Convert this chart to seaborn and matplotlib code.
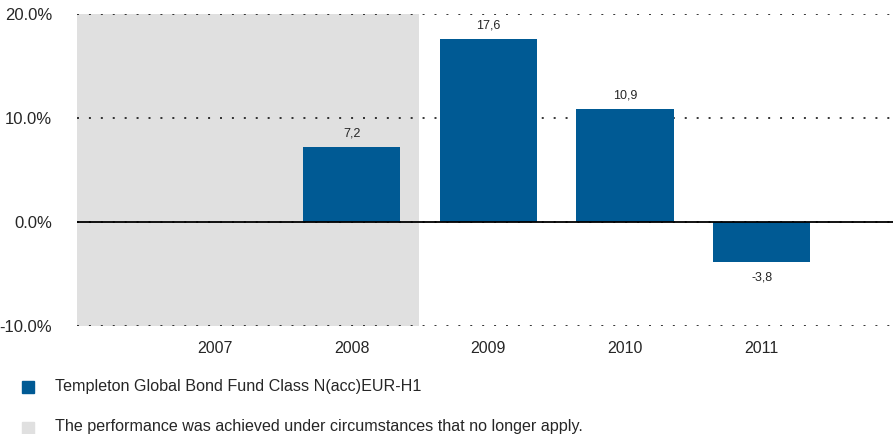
import matplotlib
matplotlib.use('Agg')
import matplotlib.pyplot as plt
import seaborn as sns
import pandas as pd
from matplotlib.ticker import FuncFormatter

years = ['2007', '2008', '2009', '2010', '2011']
returns = [None, 7.2, 17.6, 10.9, -3.8]
value_labels = ['', '7,2', '17,6', '10,9', '-3,8']
yticks = [-10, 0, 10, 20]
fund_name = 'Templeton Global Bond Fund Class N(acc)EUR-H1'
shade_note = 'The performance was achieved under circumstances that no longer apply.'

bar_color = '#005A94'
shade_color = '#E0E0E0'

sns.set_style('white')
plt.rcParams['font.family'] = ['Liberation Sans', 'DejaVu Sans']

df = pd.DataFrame({'year': years, 'ret': returns})

fig = plt.figure(figsize=(8.93, 4.34), dpi=100)
ax = fig.add_axes([0.0862, 0.2488, 0.9138, 0.7189])

# shaded period (2007-2008)
ax.axvspan(-1.01, 1.49, color=shade_color, zorder=0, lw=0)

sns.barplot(data=df, x='year', y='ret', color=bar_color, width=0.71,
            saturation=1, linewidth=0, ax=ax, zorder=3)

for i, (v, lab) in enumerate(zip(returns, value_labels)):
    if v is None:
        continue
    if v >= 0:
        ax.text(i, v + 0.7, lab, ha='center', va='bottom', fontsize=9)
    else:
        ax.text(i, v - 1.0, lab, ha='center', va='top', fontsize=9)

ax.set_xlim(-1.008, 4.96)
ax.set_ylim(-10, 20)
ax.set_yticks(yticks)
ax.yaxis.set_major_formatter(FuncFormatter(lambda v, p: f'{v:.1f}%'))
for t in [-10, 0, 10, 20]:
    ax.axhline(t, color='black', lw=1.1, ls=(0, (1.3, 6.5)), zorder=2)
ax.axhline(0, color='black', lw=1.3, zorder=4)

ax.set_xlabel('')
ax.set_ylabel('')
ax.tick_params(axis='both', length=0)
ax.tick_params(axis='y', labelsize=12, pad=18)
ax.tick_params(axis='x', labelsize=11.5, pad=11)
for s in ax.spines.values():
    s.set_visible(False)

# legend
fig.patches.append(plt.Rectangle((22 / 893, 1 - 393 / 434), 12 / 893, 12 / 434,
                                 transform=fig.transFigure, color=bar_color))
fig.text(55 / 893, 1 - 387 / 434, fund_name, fontsize=11.6, va='center')
fig.patches.append(plt.Rectangle((22 / 893, 1 - 434 / 434), 12 / 893, 12 / 434,
                                 transform=fig.transFigure, color=shade_color))
fig.text(55 / 893, 1 - 426 / 434, shade_note, fontsize=11.6, va='center')

fig.savefig('out.png', dpi=100)
